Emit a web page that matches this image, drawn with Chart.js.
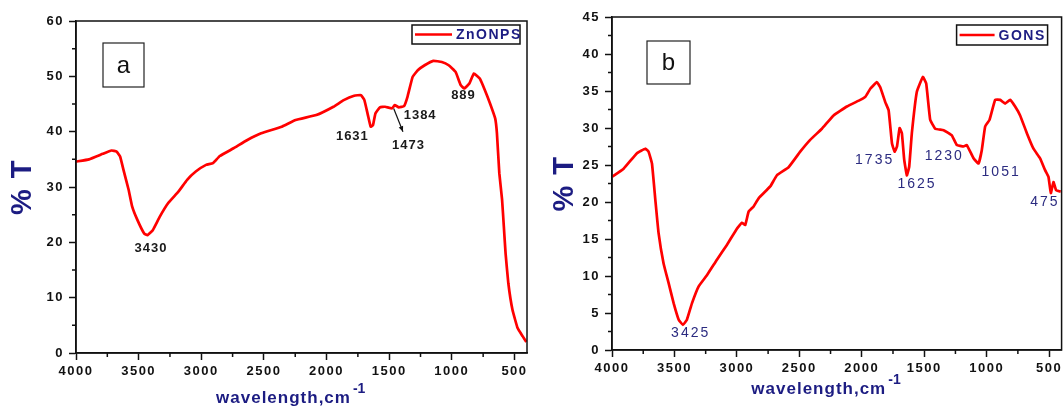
<!DOCTYPE html>
<html>
<head>
<meta charset="utf-8">
<script src="https://cdn.jsdelivr.net/npm/chart.js@4.4.1/dist/chart.umd.min.js"></script>
<style>
  html, body { margin: 0; padding: 0; background: #fff; }
  #wrap { position: relative; width: 1064px; height: 408px; }
  .panel { position: absolute; top: 0; height: 408px; }
  #panelA { left: 0; width: 540px; }
  #panelB { left: 540px; width: 524px; }
</style>
</head>
<body>
<div id="wrap">
  <div class="panel" id="panelA"><canvas id="chartA"></canvas></div>
  <div class="panel" id="panelB"><canvas id="chartB"></canvas></div>
</div>
<script>
// ---- data: panel a (ZnONPS) ----
const znoWavenumber = [4000, 3896, 3786, 3717, 3676, 3648, 3621, 3580, 3552, 3511, 3456, 3429, 3387, 3332, 3264, 3181, 3113, 3044, 2962, 2907, 2852, 2742, 2632, 2522, 2357, 2247, 2082, 1945, 1863, 1780, 1725, 1698, 1670, 1648, 1629, 1610, 1574, 1533, 1478, 1456, 1423, 1382, 1354, 1313, 1272, 1217, 1148, 1080, 1025, 970, 929, 901, 860, 824, 777, 736, 695, 654, 640, 621, 599, 585, 571, 549, 516, 475, 434, 405];
const znoTransmittance = [34.6, 35.0, 36.0, 36.6, 36.4, 35.5, 33.1, 29.5, 26.5, 24.1, 21.6, 21.3, 22.2, 24.6, 27.1, 29.2, 31.3, 32.8, 34.0, 34.3, 35.6, 37.0, 38.5, 39.7, 40.9, 42.1, 43.0, 44.5, 45.7, 46.5, 46.6, 45.7, 43.0, 40.9, 41.2, 43.3, 44.4, 44.5, 44.2, 44.8, 44.4, 44.6, 46.3, 49.9, 51.1, 52.0, 52.8, 52.6, 52.0, 50.8, 48.4, 47.8, 48.7, 50.5, 49.6, 47.5, 45.1, 42.4, 39.7, 32.5, 27.7, 22.9, 18.0, 12.6, 7.8, 4.5, 3.0, 2.0];
const znoPeakLabels = ["3430", "1631", "1473", "1384", "889"];
const znoPeakX = [3401, 1794, 1346, 1253, 907];
const znoPeakY = [18.9, 39.1, 37.5, 43.0, 46.5];

// ---- data: panel b (GONS) ----
const gonsWavenumber = [4000, 3907, 3800, 3733, 3707, 3680, 3653, 3627, 3587, 3546, 3506, 3466, 3432, 3400, 3360, 3306, 3240, 3160, 3080, 3000, 2960, 2933, 2906, 2866, 2826, 2733, 2680, 2586, 2493, 2413, 2319, 2226, 2119, 2012, 1972, 1932, 1879, 1852, 1812, 1785, 1758, 1737, 1718, 1697, 1679, 1660, 1639, 1620, 1599, 1559, 1511, 1484, 1452, 1412, 1345, 1279, 1239, 1185, 1159, 1105, 1065, 1039, 1012, 977, 932, 892, 852, 812, 772, 732, 678, 625, 572, 532, 505, 486, 465, 444, 407];
const gonsTransmittance = [23.4, 24.5, 26.6, 27.2, 26.8, 25.2, 20.3, 15.8, 11.7, 9.0, 6.3, 4.1, 3.4, 4.1, 6.3, 8.6, 10.1, 12.2, 14.2, 16.4, 17.2, 16.9, 18.7, 19.4, 20.5, 22.1, 23.6, 24.7, 26.8, 28.4, 29.9, 31.7, 32.9, 33.8, 34.2, 35.3, 36.2, 35.5, 33.5, 32.4, 27.9, 26.8, 27.5, 30.0, 29.3, 25.7, 23.6, 24.8, 29.3, 34.9, 36.9, 36.0, 31.1, 29.9, 29.7, 29.0, 27.7, 27.5, 27.7, 25.9, 25.2, 27.0, 30.2, 31.1, 33.8, 33.8, 33.3, 33.8, 32.9, 31.7, 29.3, 27.2, 25.9, 24.3, 23.4, 21.2, 22.7, 21.6, 21.4];
const gonsPeakLabels = ["3425", "1735", "1625", "1230", "1051", "475"];
const gonsPeakX = [3370, 1897, 1558, 1339, 884, 534];
const gonsPeakY = [2.25, 25.6, 22.4, 26.2, 24.0, 20.0];

// ---- axes ----
const xTickValues = [4000, 3500, 3000, 2500, 2000, 1500, 1000, 500];
const xMinorValues = [3750, 3250, 2750, 2250, 1750, 1250, 750];
const yTicksA = [0, 10, 20, 30, 40, 50, 60];
const yMinorA = [5, 15, 25, 35, 45, 55];
const yTicksB = [0, 5, 10, 15, 20, 25, 30, 35, 40, 45];
const yMinorB = [2.5, 7.5, 12.5, 17.5, 22.5, 27.5, 32.5, 37.5, 42.5];

const NAVY = "#1c1c82";
const FONT = "'Liberation Sans', Arial, sans-serif";

function toPoints(xs, ys) {
  return xs.map((x, i) => ({ x: x, y: ys[i] }));
}

// draws frame, minor ticks, panel letter, legend, peak labels, x title
const panelDecor = {
  id: "panelDecor",
  beforeDraw(chart) {
    chart.ctx.letterSpacing = "1.5px";
  },
  afterDraw(chart, args, o) {
    const ctx = chart.ctx;
    const a = chart.chartArea;
    const xs = chart.scales.x;
    const ys = chart.scales.y;
    ctx.save();
    ctx.letterSpacing = "0px";

    // frame
    ctx.strokeStyle = "#111";
    ctx.lineWidth = 1.5;
    ctx.strokeRect(a.left, a.top, a.right - a.left, a.bottom - a.top);

    // minor ticks
    ctx.beginPath();
    o.xMinor.forEach((v) => {
      const px = xs.getPixelForValue(v);
      ctx.moveTo(px, a.bottom);
      ctx.lineTo(px, a.bottom + 4);
    });
    o.yMinor.forEach((v) => {
      const py = ys.getPixelForValue(v);
      ctx.moveTo(a.left, py);
      ctx.lineTo(a.left - 4, py);
    });
    ctx.stroke();

    // panel letter box
    const lb = o.letterBox;
    ctx.lineWidth = 1.2;
    ctx.strokeStyle = "#222";
    ctx.strokeRect(a.left + lb.dx, a.top + lb.dy, lb.w, lb.h);
    ctx.fillStyle = "#111";
    ctx.font = "24px " + FONT;
    ctx.textAlign = "center";
    ctx.textBaseline = "middle";
    ctx.fillText(o.letter, a.left + lb.dx + lb.w / 2, a.top + lb.dy + lb.h / 2 + 1);

    // legend box
    const lg = o.legendBox;
    const ds = chart.data.datasets[0];
    const bx = a.right - lg.dRight - lg.w;
    const by = a.top + lg.dy;
    ctx.strokeStyle = "#111";
    ctx.lineWidth = 1.5;
    ctx.strokeRect(bx, by, lg.w, lg.h);
    ctx.strokeStyle = ds.borderColor;
    ctx.lineWidth = 2.5;
    ctx.beginPath();
    ctx.moveTo(bx + 3, by + lg.h / 2);
    ctx.lineTo(bx + 3 + lg.line, by + lg.h / 2);
    ctx.stroke();
    ctx.fillStyle = NAVY;
    ctx.font = "bold 14px " + FONT;
    ctx.letterSpacing = "1.5px";
    ctx.textAlign = "left";
    ctx.fillText(ds.label, bx + lg.line + 7, by + lg.h / 2 + 1);

    // peak labels
    ctx.fillStyle = o.peakColor;
    ctx.font = o.peakFont;
    ctx.letterSpacing = o.peakSpacing;
    ctx.textAlign = "center";
    o.peakLabels.forEach((t, i) => {
      ctx.fillText(t, xs.getPixelForValue(o.peakX[i]), ys.getPixelForValue(o.peakY[i]));
    });

    // arrow
    if (o.arrow) {
      const x1 = xs.getPixelForValue(o.arrow[0]), y1 = ys.getPixelForValue(o.arrow[1]);
      const x2 = xs.getPixelForValue(o.arrow[2]), y2 = ys.getPixelForValue(o.arrow[3]);
      ctx.strokeStyle = "#111";
      ctx.fillStyle = "#111";
      ctx.lineWidth = 1.2;
      ctx.beginPath();
      ctx.moveTo(x1, y1);
      ctx.lineTo(x2, y2);
      ctx.stroke();
      const ang = Math.atan2(y2 - y1, x2 - x1);
      ctx.beginPath();
      ctx.moveTo(x2, y2);
      ctx.lineTo(x2 - 6 * Math.cos(ang - 0.4), y2 - 6 * Math.sin(ang - 0.4));
      ctx.lineTo(x2 - 6 * Math.cos(ang + 0.4), y2 - 6 * Math.sin(ang + 0.4));
      ctx.closePath();
      ctx.fill();
    }

    // x axis title with superscript
    ctx.fillStyle = NAVY;
    ctx.font = "bold 17px " + FONT;
    ctx.letterSpacing = "1px";
    ctx.textAlign = "left";
    ctx.textBaseline = "alphabetic";
    const main = "wavelength,cm";
    const w = ctx.measureText(main).width;
    const cx = (a.left + a.right) / 2 + o.titleShift;
    const tx = cx - (w + 12) / 2;
    ctx.fillText(main, tx, o.titleY);
    ctx.font = "bold 14px " + FONT;
    ctx.letterSpacing = "0px";
    ctx.fillText("-1", tx + w + 2, o.titleY - 10);

    ctx.restore();
  },
};

function makeChart(id, cfg) {
  return new Chart(document.getElementById(id), {
    type: "line",
    data: {
      datasets: [
        {
          label: cfg.label,
          data: toPoints(cfg.xs, cfg.ys),
          borderColor: "#ff0000",
          borderWidth: 2.7,
          pointRadius: 0,
          tension: 0.1,
          fill: false,
        },
      ],
    },
    options: {
      responsive: true,
      maintainAspectRatio: false,
      animation: false,
      layout: { padding: { top: cfg.padTop, right: cfg.padRight, left: 0, bottom: 0 } },
      plugins: {
        legend: { display: false },
        tooltip: { enabled: false },
        panelDecor: cfg.decor,
      },
      scales: {
        x: {
          type: "linear",
          reverse: true,
          min: cfg.xMin,
          max: 4000,
          afterBuildTicks: (s) => {
            s.ticks = xTickValues.map((v) => ({ value: v }));
          },
          afterFit: (s) => {
            s.height = cfg.xAxisHeight;
          },
          grid: { drawOnChartArea: false, tickLength: 7, tickColor: "#111", tickWidth: 1.5 },
          border: { color: "#111", width: 1.5 },
          ticks: {
            autoSkip: false,
            maxRotation: 0,
            padding: 4,
            color: "#111",
            font: { family: FONT, size: 13, weight: "bold" },
            callback: (v) => String(v),
          },
        },
        y: {
          min: 0,
          max: cfg.yMax,
          afterBuildTicks: (s) => {
            s.ticks = cfg.yTicks.map((v) => ({ value: v }));
          },
          afterFit: (s) => {
            s.width = cfg.yAxisWidth;
          },
          grid: { drawOnChartArea: false, tickLength: 7, tickColor: "#111", tickWidth: 1.5 },
          border: { color: "#111", width: 1.5 },
          ticks: {
            padding: 5,
            color: "#111",
            font: { family: FONT, size: 13, weight: "bold" },
            callback: (v) => String(v),
          },
          title: {
            display: true,
            text: "% T",
            color: NAVY,
            font: { family: FONT, size: 29, weight: "bold" },
            padding: { top: cfg.yTitlePad, bottom: 0 },
          },
        },
      },
    },
    plugins: [panelDecor],
  });
}

makeChart("chartA", {
  label: "ZnONPS",
  xs: znoWavenumber,
  ys: znoTransmittance,
  xMin: 400,
  yMax: 60,
  yTicks: yTicksA,
  padTop: 21,
  padRight: 13,
  xAxisHeight: 55,
  yAxisWidth: 76,
  yTitlePad: 6,
  decor: {
    xMinor: xMinorValues,
    yMinor: yMinorA,
    letter: "a",
    letterBox: { dx: 27, dy: 22, w: 41, h: 44 },
    legendBox: { dRight: 7, dy: 4, w: 108, h: 19, line: 37 },
    peakLabels: znoPeakLabels,
    peakX: znoPeakX,
    peakY: znoPeakY,
    peakColor: "#1a1a1a",
    peakFont: "bold 13px " + FONT,
    peakSpacing: "1px",
    arrow: [1464, 44.2, 1390, 40.0],
    titleShift: -12,
    titleY: 403,
  },
});

makeChart("chartB", {
  label: "GONS",
  xs: gonsWavenumber,
  ys: gonsTransmittance,
  xMin: 400,
  yMax: 45,
  yTicks: yTicksB,
  padTop: 17,
  padRight: 2,
  xAxisHeight: 58,
  yAxisWidth: 72,
  yTitlePad: 8,
  decor: {
    xMinor: xMinorValues,
    yMinor: yMinorB,
    letter: "b",
    letterBox: { dx: 35, dy: 24, w: 43, h: 43 },
    legendBox: { dRight: 14, dy: 8, w: 91, h: 20, line: 35 },
    peakLabels: gonsPeakLabels,
    peakX: gonsPeakX,
    peakY: gonsPeakY,
    peakColor: "#2b2b80",
    peakFont: "14px " + FONT,
    peakSpacing: "2px",
    arrow: null,
    titleShift: -12,
    titleY: 394,
  },
});
</script>
</body>
</html>
